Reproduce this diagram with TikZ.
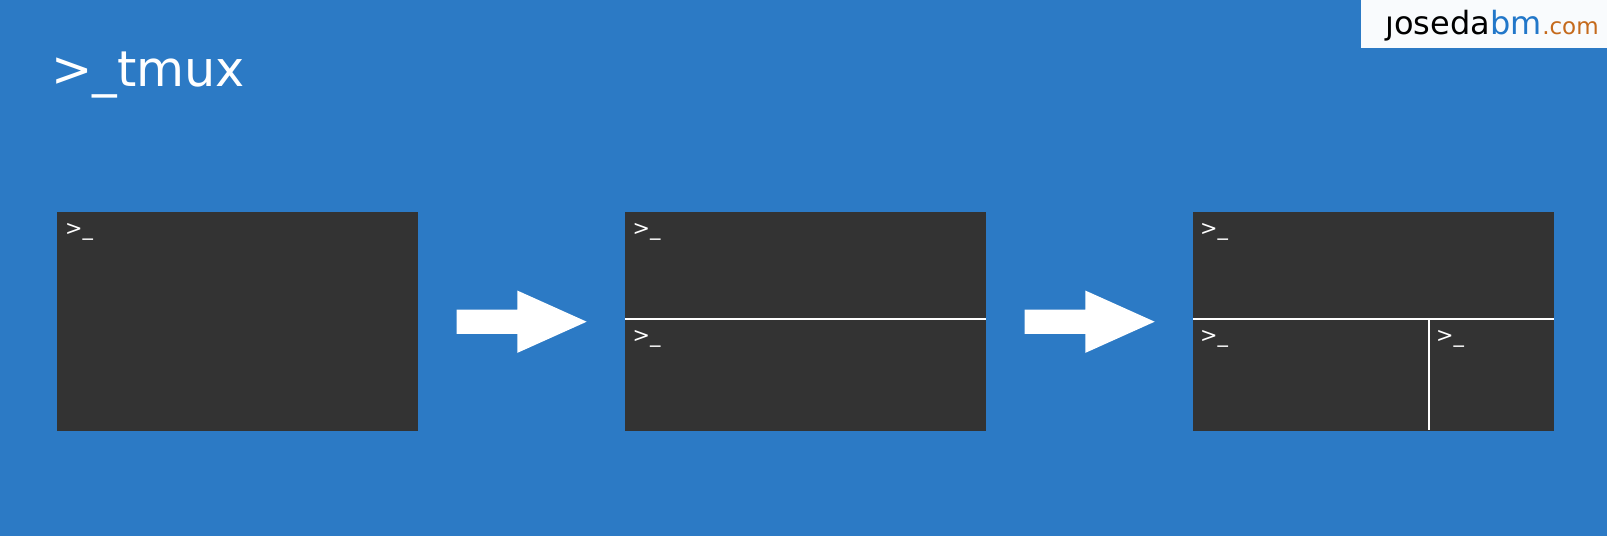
\documentclass[tikz,border=0pt]{standalone}
\usepackage{fontspec}
\setmainfont{DejaVu Sans}
\usetikzlibrary{shapes.arrows}

\definecolor{bgblue}{HTML}{2C7AC5}
\definecolor{panegray}{HTML}{333333}
\definecolor{logoblue}{HTML}{2277C9}
\definecolor{logoorange}{HTML}{C56A1C}

\tikzset{
	pane/.style={rectangle, fill=panegray, anchor=north west, inner sep=0pt, minimum width=361pt, minimum height=218.3pt},
	prompt/.style={anchor=base west, inner sep=0pt, text=white, font=\fontsize{20.8}{20.8}\selectfont},
	blockarrow/.style={single arrow, fill=white, anchor=tail, inner xsep=0pt, inner ysep=12pt, outer sep=0pt, minimum height=130pt, single arrow head extend=19pt, single arrow tip angle=48.4, single arrow head indent=0pt},
	splitline/.style={draw=white, line width=2pt},
	logopart/.style={anchor=base west, inner sep=0pt}
}

\begin{document}
\begin{tikzpicture}[x=1pt, y=-1pt]
	\useasboundingbox (0, 0) rectangle (1607, 536);
	\fill[bgblue] (0, 0) rectangle (1607, 536);
	\fill[white!97!bgblue] (1360.7, 0) rectangle (1607, 48);

	% header
	\node[logopart, font=\fontsize{32}{32}\selectfont] (logoname) at (1385, 34.5) {ȷoseda};
	\node[logopart, font=\fontsize{32}{32}\selectfont, text=logoblue] (logobm) at (logoname.base east) {bm};
	\node[logopart, font=\fontsize{23}{23}\selectfont, text=logoorange] (logocom) at (logobm.base east) {.com};
	\node[anchor=base west, inner sep=0pt, text=white, font=\fontsize{49.3}{49.3}\selectfont] (title) at (51, 86.5) {>\_tmux};

	% panes
	\node[pane] (paneA) at (57, 212) {};
	\node[pane] (paneB) at (625, 212) {};
	\node[pane] (paneC) at (1193, 212) {};

	% arrows
	\node[blockarrow] (arrowA) at (456.7, 321.7) {};
	\node[blockarrow] (arrowB) at (1024.7, 321.7) {};

	% splits
	\coordinate (splitB) at (625, 319.3);
	\coordinate (splitBend) at (986, 319.3);
	\coordinate (splitC) at (1193, 319.3);
	\coordinate (splitCend) at (1554, 319.3);
	\coordinate (splitV) at (1429.3, 319.3);
	\coordinate (splitVend) at (1429.3, 430.3);
	\draw[splitline] (splitB) -- (splitBend);
	\draw[splitline] (splitC) -- (splitCend);
	\draw[splitline] (splitV) -- (splitVend);

	% prompts
	\node[prompt] (promptA) at (65, 235.6) {>\_};
	\node[prompt] (promptB) at (632.5, 235.6) {>\_};
	\node[prompt] (promptBlow) at (632.5, 342.2) {>\_};
	\node[prompt] (promptC) at (1200, 235.6) {>\_};
	\node[prompt] (promptClow) at (1200, 342.2) {>\_};
	\node[prompt] (promptCright) at (1436, 342.2) {>\_};
\end{tikzpicture}
\end{document}
